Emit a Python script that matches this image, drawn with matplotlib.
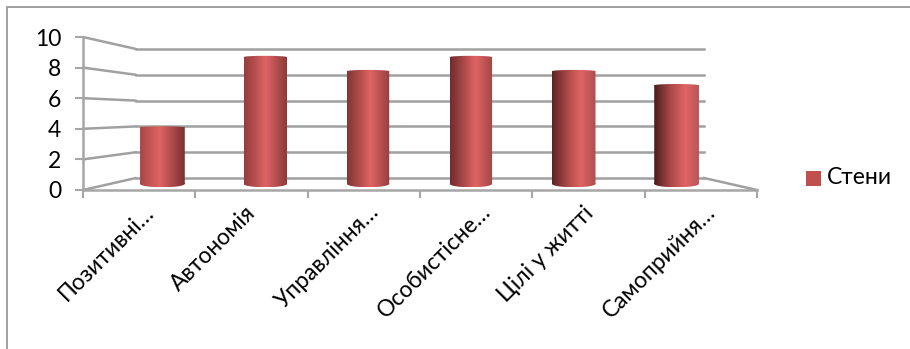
import numpy as np
import matplotlib.pyplot as plt
from matplotlib.path import Path
from matplotlib.patches import Ellipse, PathPatch, Rectangle

plt.rcParams['font.family'] = ['Lato', 'Open Sans', 'DejaVu Sans']

categories = ['Позитивні…', 'Автономія', 'Управління…', 'Особистісне…', 'Цілі у житті', 'Самоприйня…']
values = [4, 9, 8, 9, 8, 7]
y_ticks = [0, 2, 4, 6, 8, 10]
legend_label = 'Стени'

W, H = 910, 349
GRAY = '#a6a6a6'
grid_gray = '#a0a0a0'
text_size = 16.5


def box(left, top, right, bottom):
    return [left / W, 1 - bottom / H, (right - left) / W, (bottom - top) / H]


fig = plt.figure(figsize=(W / 100, H / 100), dpi=100)

# canvas in pixel units for the frame and the floor/side wall lines
frame = fig.add_axes([0, 0, 1, 1])
frame.set_xlim(0, W)
frame.set_ylim(H, 0)
frame.axis('off')
frame.plot([6.5, 6.5, 910], [349, 6.5, 6.5], color='#999999', lw=1.3)

# back wall
back = fig.add_axes(box(136, 49, 704, 178), facecolor='none')
back.set_xlim(0, 6)
back.set_ylim(0, 10)
back.set_yticks(y_ticks)
back.grid(axis='y', color=grid_gray, lw=1.8)
back.tick_params(left=False, bottom=False, labelleft=False, labelbottom=False)
for s in back.spines.values():
    s.set_visible(False)
for line in back.get_ygridlines():
    line.set_clip_on(False)

# front axes carry the ticks and labels
front = fig.add_axes(box(83, 37, 757, 190), facecolor='none')
front.set_xlim(0, 6)
front.set_ylim(0, 10)
front.set_yticks(y_ticks)
front.set_xticks(range(7))
front.set_xticklabels([])
front.tick_params(axis='both', color=GRAY, width=1.5, length=5.5, labelsize=text_size)
front.tick_params(axis='y', pad=10)
for name in ['top', 'right']:
    front.spines[name].set_visible(False)
for name in ['left', 'bottom']:
    front.spines[name].set_color(GRAY)
    front.spines[name].set_linewidth(1.8)

# side wall edges joining the front axis to the back wall
for v in y_ticks:
    fy = 190 - v * 15.3
    by = 178 - v * 12.9
    frame.plot([83, 136], [fy, by], color=grid_gray, lw=1.8, solid_capstyle='round')
frame.plot([704, 757], [178, 190], color=grid_gray, lw=1.8)

# rotated category labels hang from the tick positions
for i, label in enumerate(categories):
    offset = (3, -8) if label.endswith('…') else (-4.5, -9)
    front.annotate(label, xy=(i + 0.5, 0), xycoords='data', xytext=offset,
                   textcoords='offset points', rotation=45, ha='right', va='top',
                   rotation_mode='anchor', fontsize=text_size)

# cylinders sit half way between the front axis and the back wall
bars = fig.add_axes(box(111, 43, 728, 198), facecolor='none')
bars.axis('off')

dark = np.array([0x4a, 0x1c, 0x1c]) / 255
mid = np.array([0xa8, 0x46, 0x46]) / 255
light = np.array([0xe0, 0x64, 0x64]) / 255
right_dark = np.array([0x7a, 0x30, 0x30]) / 255
right_light = np.array([0xbc, 0x55, 0x55]) / 255
top_cap = 0.09
low_cap = 0.24

for i, v in enumerate(values):
    # the highlight drifts to the right and the shaded side swaps over
    t = i / (len(values) - 1)
    bar_w = 0.405 + 0.03 * abs(t - 0.5) * 2
    peak = 0.44 + 0.26 * t
    u = np.linspace(0, 1, 128)
    left_edge = mid * (1 - t) + dark * t
    right_edge = right_dark * (1 - t) + right_light * t
    shoulder = 0.5 * (left_edge + light) * (1 - t) + mid * t
    rgb = np.zeros((1, 128, 3))
    for c in range(3):
        rgb[0, :, c] = np.interp(u, [0, peak * 0.5, peak, 1],
                                 [left_edge[c], shoulder[c], light[c], right_edge[c]])
    left, right = i - bar_w / 2, i + bar_w / 2
    im = bars.imshow(rgb, extent=(left, right, -low_cap, v + top_cap), aspect='auto',
                     interpolation='bilinear', zorder=3)
    # body plus the rounded base and top of the cylinder
    base = Ellipse((i, 0), bar_w, low_cap * 2)
    cap = Ellipse((i, v), bar_w, top_cap * 2)
    outline = Path.make_compound_path(
        Path([(left, 0), (right, 0), (right, v), (left, v), (left, 0)], closed=True),
        base.get_path().transformed(base.get_patch_transform()),
        cap.get_path().transformed(cap.get_patch_transform()),
    )
    clip = PathPatch(outline, transform=bars.transData, facecolor='none', edgecolor='none')
    bars.add_patch(clip)
    im.set_clip_path(clip)

bars.set_xlim(-0.5, 5.5)
bars.set_ylim(-1, 10)

# legend
frame.add_patch(Rectangle((806, 171), 15, 15, facecolor='#c0504d', edgecolor='none'))
frame.text(827, 178, legend_label, fontsize=text_size, va='center', ha='left')

fig.savefig('out.png', dpi=100)
